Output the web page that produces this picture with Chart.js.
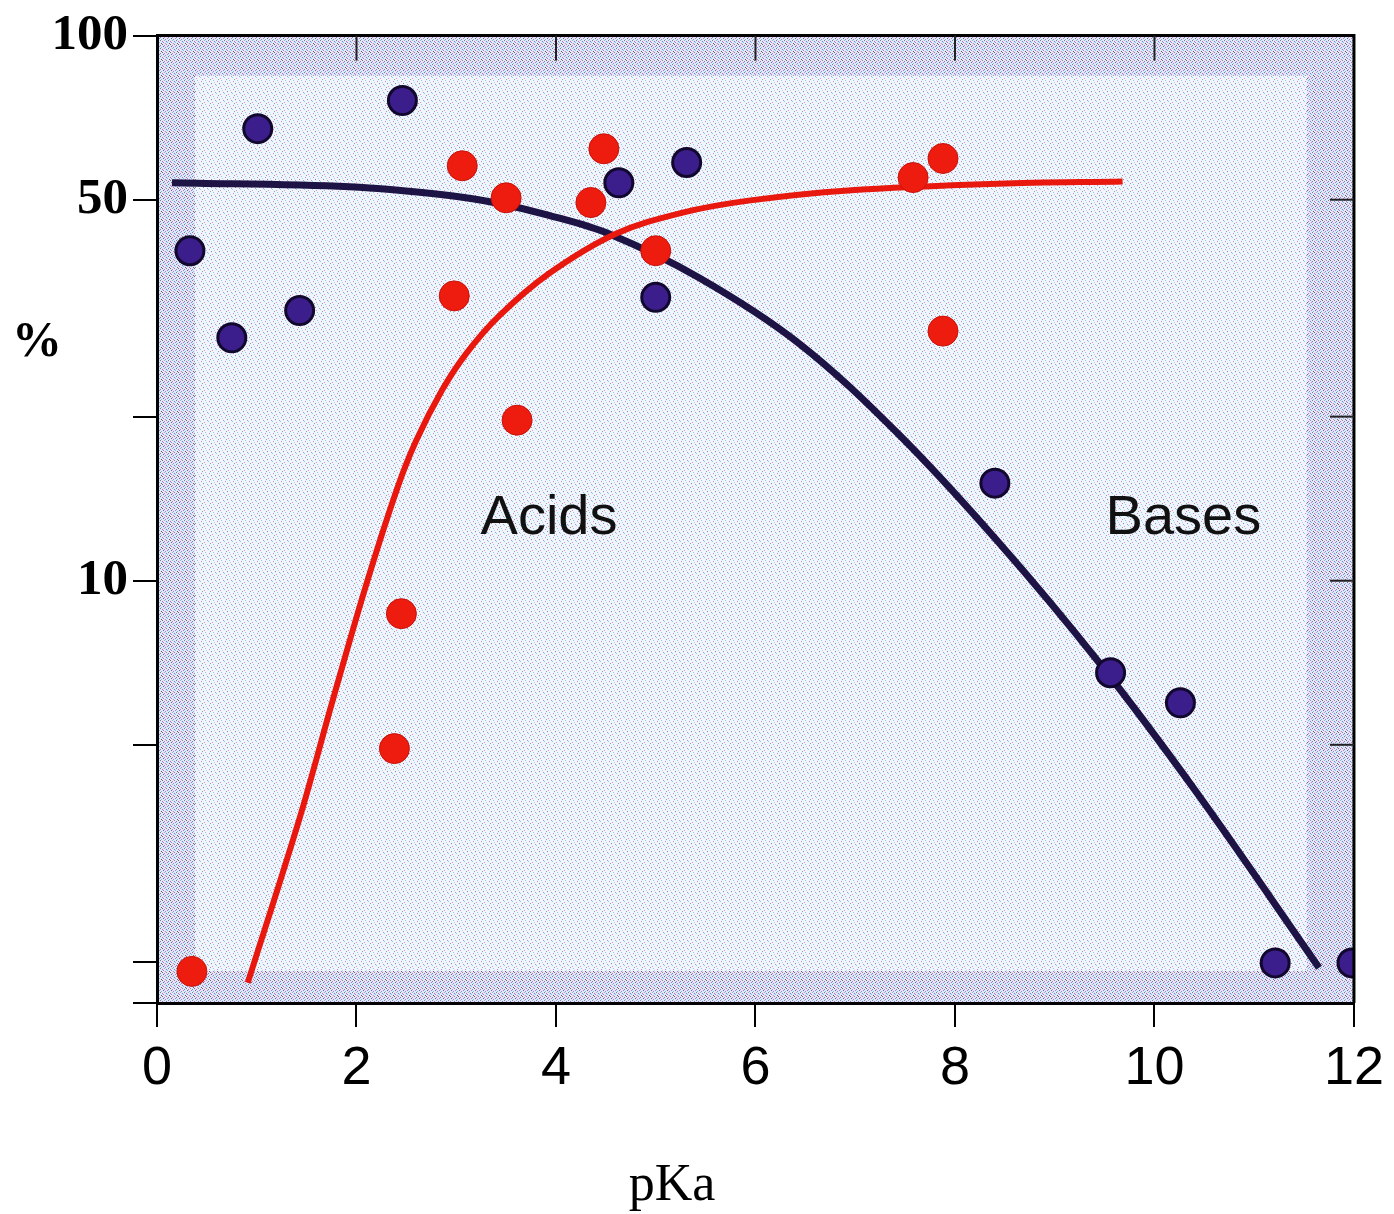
<!DOCTYPE html>
<html>
<head>
<meta charset="utf-8">
<title>pKa</title>
<script src="https://cdn.jsdelivr.net/npm/chart.js@4.4.1/dist/chart.umd.min.js"></script>
<style>
  html, body { margin: 0; padding: 0; background: #fff; }
  #wrap { width: 1394px; height: 1214px; }
</style>
</head>
<body>
<div id="wrap"><canvas id="pkaChart" width="1394" height="1214"></canvas></div>
<script>
// bases (blue dots)
const baseX = [0.33, 0.75, 1.01, 1.43, 2.46, 4.63, 5.31, 5.00, 8.40, 9.56, 10.26, 11.21, 11.98];
const baseY = [40.3, 27.9, 67.5, 31.3, 76.0, 53.7, 58.5, 33.1, 15.1, 6.78, 5.97, 1.99, 1.99];

// acids (red dots)
const acidX = [0.35, 2.38, 2.45, 2.98, 3.06, 3.50, 3.61, 4.35, 4.48, 5.00, 7.58, 7.88, 7.88];
const acidY = [1.92, 4.92, 8.70, 33.3, 57.7, 50.4, 19.7, 49.4, 62.0, 40.3, 54.9, 59.5, 28.7];

// fitted curves
const baseCurveX = [0.15, 1.93, 2.93, 3.43, 3.93, 4.53, 5.43, 6.43, 7.43, 8.43, 9.43, 10.43, 11.65];
const baseCurveY = [53.7, 52.8, 50.9, 49.2, 46.8, 43.3, 36.0, 27.3, 18.6, 11.8, 7.13, 4.07, 1.95];
const acidCurveX = [0.91, 1.43, 1.76, 2.10, 2.41, 2.60, 2.86, 3.10, 3.43, 3.93, 4.60, 5.26, 5.93, 6.93, 8.43, 9.68];
const acidCurveY = [1.83, 3.67, 6.02, 9.87, 14.8, 18.1, 22.4, 26.1, 30.6, 36.6, 43.3, 47.3, 49.8, 52.0, 53.5, 54.0];

// axes
const yMin = 1.68, yMax = 100;
const yTickValues = [yMin, 2, 5, 10, 20, 50, 100];
const yTickLabels = [10, 50, 100];
const xTickLabels = [0, 2, 4, 6, 8, 10, 12];

// text in the plot
const notes = [
  { text: 'Acids', x: 3.93, y: 13.0 },
  { text: 'Bases', x: 10.29, y: 13.0 }
];

const pts = (xs, ys) => xs.map((x, i) => ({ x: x, y: ys[i] }));

function makeTile(bg, dots, w, h) {
  const c = document.createElement('canvas');
  c.width = w; c.height = h;
  const g = c.getContext('2d');
  g.fillStyle = bg;
  g.fillRect(0, 0, w, h);
  dots.forEach(d => { g.fillStyle = d[2]; g.fillRect(d[0], d[1], 1, 1); });
  return c;
}

const innerTile = makeTile('#f0f5fc', [
  [1, 1, '#c785d9'], [5, 0, '#86cdee'], [3, 3, '#8d8592'], [7, 4, '#9c9ce2'],
  [0, 5, '#86d6f0'], [4, 6, '#d59ad8'], [6, 2, '#a8d8f0'], [2, 7, '#a79c9c']
], 8, 8);
const bandTile = makeTile('#e2e6f5', [
  [0, 0, '#8a7e8e'], [2, 1, '#b36fd0'], [4, 0, '#6cc3ea'], [6, 1, '#7d7bd2'],
  [1, 3, '#6a6470'], [3, 2, '#8f8fdc'], [5, 3, '#c87ad3'], [7, 2, '#6fc8ee'],
  [0, 5, '#7c7bd0'], [2, 4, '#766f78'], [4, 5, '#bf7ad6'], [6, 4, '#9a92a0'],
  [1, 7, '#72c6ec'], [3, 6, '#6e6874'], [5, 7, '#8b89dc'], [7, 6, '#b47ad0']
], 8, 8);

const paperPlugin = {
  id: 'paper',
  beforeDraw(chart) {
    const { ctx, chartArea: a } = chart;
    ctx.save();
    ctx.fillStyle = ctx.createPattern(bandTile, 'repeat');
    ctx.fillRect(a.left, a.top, a.right - a.left, a.bottom - a.top);
    ctx.fillStyle = ctx.createPattern(innerTile, 'repeat');
    ctx.fillRect(a.left + 38, a.top + 40, a.right - a.left - 85, a.bottom - a.top - 72);
    ctx.restore();
  },
  afterDraw(chart) {
    const { ctx, chartArea: a, scales } = chart;
    ctx.save();
    // frame top and right
    ctx.strokeStyle = '#000';
    ctx.lineWidth = 3;
    ctx.beginPath();
    ctx.moveTo(a.left, a.top);
    ctx.lineTo(a.right, a.top);
    ctx.lineTo(a.right, a.bottom);
    ctx.stroke();
    // inner ticks on top and right
    ctx.lineWidth = 2;
    ctx.strokeStyle = '#222';
    scales.x.ticks.forEach(t => {
      if (t.value <= 0 || t.value >= 12) return;
      const px = scales.x.getPixelForValue(t.value);
      ctx.beginPath(); ctx.moveTo(px, a.top); ctx.lineTo(px, a.top + 25); ctx.stroke();
    });
    [5, 10, 20, 50].forEach(v => {
      const py = scales.y.getPixelForValue(v);
      ctx.beginPath(); ctx.moveTo(a.right, py); ctx.lineTo(a.right - 24, py); ctx.stroke();
    });
    // notes
    ctx.fillStyle = '#111';
    ctx.font = '56px "Liberation Sans", Arial, sans-serif';
    ctx.textAlign = 'center';
    ctx.textBaseline = 'middle';
    notes.forEach(n => {
      ctx.fillText(n.text, scales.x.getPixelForValue(n.x), scales.y.getPixelForValue(n.y));
    });
    // axis titles
    ctx.fillStyle = '#000';
    ctx.font = 'bold 50px "Liberation Serif", "Times New Roman", serif';
    ctx.fillText('%', 37, 343);
    ctx.font = '52px "Liberation Serif", "Times New Roman", serif';
    ctx.fillText('pKa', 672, 1186);
    ctx.restore();
  }
};

const ctx = document.getElementById('pkaChart').getContext('2d');
const pkaChart = new Chart(ctx, {
  type: 'scatter',
  data: {
    datasets: [
      {
        label: 'Acids',
        data: pts(acidX, acidY),
        backgroundColor: '#ee1b0f',
        borderColor: '#c8120a',
        borderWidth: 1,
        pointRadius: 15,
        order: 1
      },
      {
        label: 'Bases',
        data: pts(baseX, baseY),
        backgroundColor: '#3b1e8c',
        borderColor: '#12082e',
        borderWidth: 3,
        pointRadius: 14,
        order: 2
      },
      {
        label: 'Acids curve',
        data: pts(acidCurveX, acidCurveY),
        showLine: true,
        borderColor: '#e8180e',
        borderWidth: 6,
        pointRadius: 0,
        tension: 0.35,
        borderCapStyle: 'butt',
        order: 3
      },
      {
        label: 'Bases curve',
        data: pts(baseCurveX, baseCurveY),
        showLine: true,
        borderColor: '#1e1345',
        borderWidth: 7,
        pointRadius: 0,
        tension: 0.35,
        borderCapStyle: 'butt',
        order: 4
      }
    ]
  },
  options: {
    responsive: false,
    animation: false,
    events: [],
    layout: { padding: { top: 35, right: 39, left: 0, bottom: 0 } },
    plugins: { legend: { display: false }, tooltip: { enabled: false } },
    scales: {
      x: {
        type: 'linear',
        min: 0,
        max: 12,
        afterBuildTicks: s => { s.ticks = xTickLabels.map(v => ({ value: v })); },
        ticks: {
          autoSkip: false,
          maxRotation: 0,
          padding: 10,
          color: '#000',
          font: { family: '"Liberation Sans", Arial, sans-serif', size: 54 }
        },
        grid: { drawOnChartArea: false, tickLength: 24, color: '#000', lineWidth: 2 },
        border: { color: '#000', width: 3 },
        afterFit: s => { s.height = 211; }
      },
      y: {
        type: 'logarithmic',
        min: yMin,
        max: yMax,
        afterBuildTicks: s => { s.ticks = yTickValues.map(v => ({ value: v })); },
        ticks: {
          autoSkip: false,
          padding: 5,
          color: '#000',
          font: { family: '"Liberation Serif", "Times New Roman", serif', size: 51, weight: 'bold' },
          callback: v => yTickLabels.includes(v) ? String(v) : ''
        },
        grid: { drawOnChartArea: false, tickLength: 24, color: '#000', lineWidth: 2 },
        border: { color: '#000', width: 3 },
        afterFit: s => { s.width = 157; }
      }
    }
  },
  plugins: [paperPlugin]
});
</script>
</body>
</html>
